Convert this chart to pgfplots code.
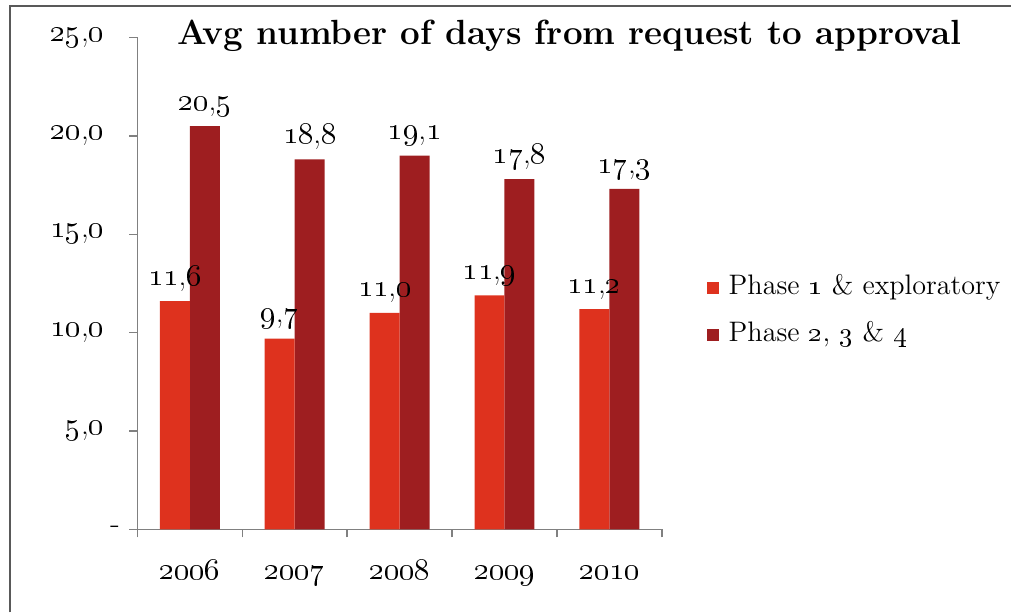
\documentclass[border=0pt]{standalone}
\usepackage{fix-cm}
\usepackage{pgfplots}
\pgfplotsset{compat=1.18}
\definecolor{phaseone}{RGB}{222,50,30}
\definecolor{phasetwo}{RGB}{158,30,32}
\newcommand\osn[2]{\oldstylenums{#1},\oldstylenums{#2}}
\begin{document}
\begin{tikzpicture}
\begin{axis}[
  scale only axis, width=262.5pt, height=246.25pt,
  xmin=-0.5, xmax=4.5, ymin=0, ymax=25,
  axis x line*=bottom, axis y line*=left,
  axis line style={gray, line width=0.7pt},
  tick align=outside, major tick length=4pt, minor tick length=4pt,
  tick style={gray, line width=0.7pt},
  xtick={0,1,2,3,4},
  xticklabels={\oldstylenums{2006},\oldstylenums{2007},\oldstylenums{2008},\oldstylenums{2009},\oldstylenums{2010}},
  major x tick style={draw=none},
  minor xtick={-0.5,0.5,1.5,2.5,3.5,4.5},
  xticklabel style={font=\fontsize{15.5}{17}\selectfont, anchor=base, yshift=-21pt},
  ytick={0,5,10,15,20,25},
  yticklabels={-\kern-12pt, \osn{5}{0}, \osn{10}{0}, \osn{15}{0}, \osn{20}{0}, \osn{25}{0}},
  yticklabel style={font=\fontsize{15.5}{17}\selectfont, inner sep=0pt, xshift=-12.5pt},
  ybar=0pt, bar width=15pt,
  point meta=explicit symbolic,
  nodes near coords,
  every node near coord/.append style={font=\fontsize{15.5}{17}\selectfont, anchor=base, inner sep=0pt, yshift=8pt},
  legend image code/.code={\fill[#1] (0pt,-3pt) rectangle (6pt,3pt);},
  legend style={at={(1.0848,0.4437)}, anchor=west, draw=none, fill=none,
    font=\fontsize{14.1}{16}\selectfont, row sep=11pt, inner sep=0pt,
    nodes={inner sep=0pt, text height=9.5pt, text depth=3pt},
    /tikz/every odd column/.append style={column sep=5pt}},
  legend cell align=left,
  clip=false,
]
\addlegendimage{fill=phaseone, draw=none}
\addlegendentry{Phase \oldstylenums{1} \& exploratory}
\addlegendimage{fill=phasetwo, draw=none}
\addlegendentry{Phase \oldstylenums{2}, \oldstylenums{3} \& \oldstylenums{4}}
\addplot[fill=phasetwo, draw=none, bar shift=7.5pt, forget plot] coordinates {
  (0,20.5) [\osn{20}{5}]
  (1,18.8) [\osn{18}{8}]
  (2,19.0) [\osn{19}{1}]
  (3,17.8) [\osn{17}{8}]
  (4,17.3) [\osn{17}{3}]
};
\addplot[fill=phaseone, draw=none, bar shift=-7.5pt, forget plot] coordinates {
  (0,11.6) [\osn{11}{6}]
  (1,9.7) [\osn{9}{7}]
  (2,11.0) [\osn{11}{0}]
  (3,11.9) [\osn{11}{9}]
  (4,11.2) [\osn{11}{2}]
};
\end{axis}
\begin{scope}[shift={(current axis.south west)}]
  \path (-68.75pt,-41.5pt) rectangle (437.25pt,265pt);
  \draw[line width=1pt, black!65] (-63.75pt,-41.5pt) -- (-63.75pt,262pt) -- (437.25pt,262pt);
  \node[anchor=base, inner sep=0pt, font=\bfseries\fontsize{17.5}{20}\selectfont] at (216.25pt,242.5pt) {Avg number of days from request to approval};
\end{scope}
\end{tikzpicture}
\end{document}
